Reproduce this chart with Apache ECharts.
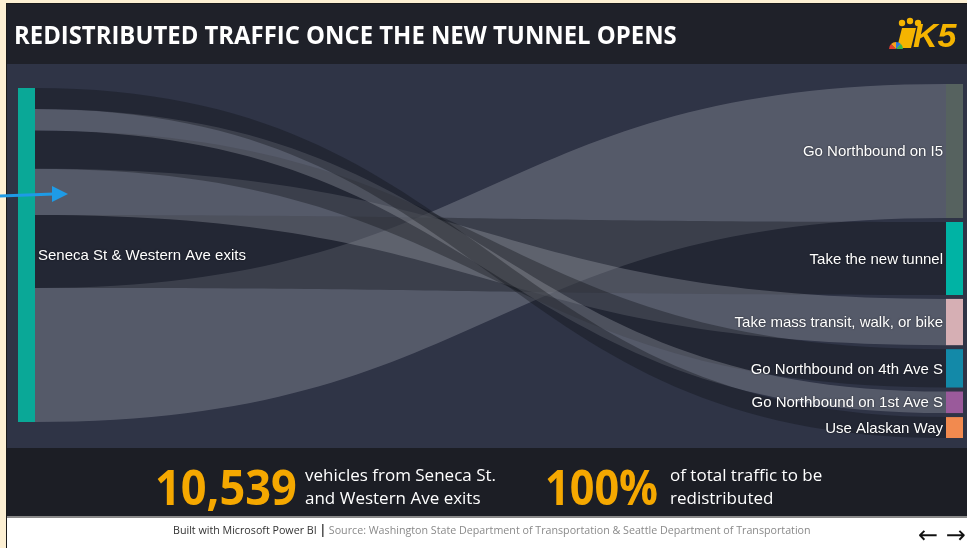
<!DOCTYPE html>
<html>
<head>
<meta charset="utf-8">
<script src="https://cdn.jsdelivr.net/npm/echarts@6/dist/echarts.min.js"></script>
<style>
html,body{margin:0;padding:0;background:#fdf0d3;}
#c{width:967px;height:548px;}
</style>
</head>
<body>
<div id="c"></div>
<script>
// ---- data ----
const sourceName = 'Seneca St & Western Ave exits';
const targets = ['Go Northbound on I5', 'Take the new tunnel', 'Take mass transit, walk, or bike',
  'Go Northbound on 4th Ave S', 'Go Northbound on 1st Ave S', 'Use Alaskan Way'];
const vehicles = [4229, 2300, 1460, 1210, 680, 660];
const totalVehicles = 10539;
const shareRedistributed = 100; // percent

// ---- styles ----
const targetColors = ['#56625f', '#00b3a4', '#d6afb4', '#1389a8', '#9a5a9b', '#f28a4f'];
const sourceColor = '#0aa897';
const linkColors = ['rgba(175,178,188,0.30)', 'rgba(14,16,22,0.36)'];
const NODE_W = 17, GAP_PX = 4, PLOT_TOP = 84, PLOT_H = 354;

const total = vehicles.reduce((a, b) => a + b, 0);
const contentPx = PLOT_H - (targets.length - 1) * GAP_PX;
const gapUnits = total * GAP_PX / contentPx;
const yMax = total + (targets.length - 1) * gapUnits;

// right (target) stacking in listed order, left (source) stacking in reversed order
const tTop = [];
let acc = 0;
vehicles.forEach((v, i) => { tTop[i] = acc; acc += v + gapUnits; });
const sTop = [];
acc = gapUnits;
for (let i = vehicles.length - 1; i >= 0; i--) { sTop[i] = acc; acc += vehicles[i]; }
const sourceTop = gapUnits, sourceBottom = gapUnits + total;

const linkData = vehicles.map((v, i) => [0, sTop[i], sTop[i] + v, tTop[i], tTop[i] + v]);

const chart = echarts.init(document.getElementById('c'), null, {renderer: 'canvas'});

function renderLink(params, api) {
  const i = params.dataIndex;
  const x0 = api.coord([0, 0])[0] + NODE_W;
  const x1 = api.coord([1, 0])[0] - NODE_W;
  const s0 = api.coord([0, api.value(1)])[1];
  const s1 = api.coord([0, api.value(2)])[1];
  const t0 = api.coord([1, api.value(3)])[1];
  const t1 = api.coord([1, api.value(4)])[1];
  const xm = (x0 + x1) / 2;
  const d = `M${x0},${s0} C${xm},${s0} ${xm},${t0} ${x1},${t0} L${x1},${t1} C${xm},${t1} ${xm},${s1} ${x0},${s1} Z`;
  return {type: 'path', shape: {pathData: d}, style: {fill: linkColors[i % 2]}};
}

const labelFont = '15px "Liberation Sans", Arial, sans-serif';
function renderNode(params, api) {
  const i = params.dataIndex;
  const xr = api.coord([1, 0])[0];
  const y0 = api.coord([1, api.value(3)])[1];
  const y1 = api.coord([1, api.value(4)])[1];
  const children = [
    {type: 'rect', shape: {x: xr - NODE_W, y: y0, width: NODE_W, height: y1 - y0}, style: {fill: targetColors[i]}},
    {type: 'text', style: {text: targets[i], x: xr - NODE_W - 3, y: (y0 + y1) / 2 + 1, fill: '#ffffff', font: labelFont,
      align: 'right', verticalAlign: 'middle', textAlign: 'right', textVerticalAlign: 'middle',
      textShadowColor: 'rgba(0,0,0,0.6)', textShadowBlur: 2}}
  ];
  if (i === 0) {
    const xl = api.coord([0, 0])[0];
    const a = api.coord([0, sourceTop])[1];
    const b = api.coord([0, sourceBottom])[1];
    children.push({type: 'rect', shape: {x: xl, y: a, width: NODE_W, height: b - a}, style: {fill: sourceColor}});
    children.push({type: 'text', style: {text: sourceName, x: xl + NODE_W + 3, y: (a + b) / 2 + 1, fill: '#ffffff', font: labelFont,
      align: 'left', verticalAlign: 'middle', textAlign: 'left', textVerticalAlign: 'middle',
      textShadowColor: 'rgba(0,0,0,0.6)', textShadowBlur: 2}});
  }
  return {type: 'group', children: children};
}

const uiFont = '"Open Sans", "Noto Sans", sans-serif';
const gold = '#f5b400';
const option = {
  animation: false,
  grid: {left: 18, right: 4, top: PLOT_TOP, height: PLOT_H},
  xAxis: {type: 'value', min: 0, max: 1, show: false},
  yAxis: {type: 'value', min: 0, max: yMax, inverse: true, show: false},
  graphic: [
    {type: 'rect', z: -10, shape: {x: 6, y: 3, width: 961, height: 545}, style: {fill: '#1a1a1a'}},
    {type: 'rect', z: -9, shape: {x: 7, y: 4, width: 960, height: 60}, style: {fill: '#1f2129'}},
    {type: 'rect', z: -9, shape: {x: 7, y: 64, width: 960, height: 384}, style: {fill: '#2f3446'}},
    {type: 'rect', z: -9, shape: {x: 7, y: 448, width: 960, height: 68}, style: {fill: '#1c1e25'}},
    {type: 'rect', z: -9, shape: {x: 7, y: 516, width: 960, height: 2}, style: {fill: '#8a8a8a'}},
    {type: 'rect', z: -9, shape: {x: 7, y: 518, width: 960, height: 30}, style: {fill: '#ffffff'}},
    {type: 'text', z: 5, scaleX: 0.955, originX: 14, style: {text: 'REDISTRIBUTED TRAFFIC ONCE THE NEW TUNNEL OPENS', x: 14, y: 37,
      fill: '#ffffff', font: 'bold 25px ' + uiFont, textVerticalAlign: 'middle', verticalAlign: 'middle'}},
    // logo
    {type: 'polygon', z: 5, shape: {points: [[902, 28], [916, 28], [911, 48], [897, 48]]}, style: {fill: gold}},
    {type: 'circle', z: 5, shape: {cx: 902, cy: 23, r: 3.2}, style: {fill: gold}},
    {type: 'circle', z: 5, shape: {cx: 910, cy: 21, r: 3.2}, style: {fill: gold}},
    {type: 'circle', z: 5, shape: {cx: 918, cy: 23, r: 3.2}, style: {fill: gold}},
    {type: 'text', z: 5, style: {text: 'K5', x: 913, y: 38, fill: gold, font: 'italic bold 34px "Liberation Sans", sans-serif',
      textVerticalAlign: 'middle', verticalAlign: 'middle'}},
    {type: 'sector', z: 6, shape: {cx: 896, cy: 49, r: 7, startAngle: Math.PI, endAngle: Math.PI * 1.25}, style: {fill: '#e43d30'}},
    {type: 'sector', z: 6, shape: {cx: 896, cy: 49, r: 7, startAngle: Math.PI * 1.25, endAngle: Math.PI * 1.5}, style: {fill: '#f7a21b'}},
    {type: 'sector', z: 6, shape: {cx: 896, cy: 49, r: 7, startAngle: Math.PI * 1.5, endAngle: Math.PI * 1.75}, style: {fill: '#2f7ddc'}},
    {type: 'sector', z: 6, shape: {cx: 896, cy: 49, r: 7, startAngle: Math.PI * 1.75, endAngle: Math.PI * 2}, style: {fill: '#3bb54a'}},
    // annotation arrow
    {type: 'polyline', z: 20, shape: {points: [[0, 196], [54, 194]]}, style: {stroke: '#1e9be6', lineWidth: 3}},
    {type: 'polygon', z: 20, shape: {points: [[52, 186], [68, 194], [52, 202]]}, style: {fill: '#1e9be6'}},
    // KPI band
    {type: 'text', z: 5, scaleX: 0.94, originX: 155, style: {text: totalVehicles.toLocaleString('en-US'), x: 155, y: 491, fill: '#f5a800',
      font: 'bold 48px ' + uiFont, textVerticalAlign: 'middle', verticalAlign: 'middle'}},
    {type: 'text', z: 5, style: {text: 'vehicles from Seneca St.\nand Western Ave exits', x: 305, y: 488, fill: '#ffffff',
      font: '17px ' + uiFont, lineHeight: 23, textVerticalAlign: 'middle', verticalAlign: 'middle'}},
    {type: 'text', z: 5, scaleX: 0.9, originX: 545, style: {text: shareRedistributed + '%', x: 545, y: 491, fill: '#f5a800',
      font: 'bold 48px ' + uiFont, textVerticalAlign: 'middle', verticalAlign: 'middle'}},
    {type: 'text', z: 5, style: {text: 'of total traffic to be\nredistributed', x: 670, y: 488, fill: '#ffffff',
      font: '17px ' + uiFont, lineHeight: 23, textVerticalAlign: 'middle', verticalAlign: 'middle'}},
    // footer
    {type: 'text', z: 5, style: {
      text: '{a|Built with Microsoft Power BI }{p||}{b| Source: Washington State Department of Transportation & Seattle Department of Transportation}',
      x: 173, y: 531, textVerticalAlign: 'middle', verticalAlign: 'middle',
      rich: {a: {fill: '#333333', font: '10.7px ' + uiFont}, p: {fill: '#333333', font: 'bold 12px ' + uiFont},
             b: {fill: '#8a8a8a', font: '10.7px ' + uiFont}}}},
    {type: 'text', z: 5, style: {text: '\u2190 \u2192', x: 918, y: 537, fill: '#111111', font: '24px "DejaVu Sans", sans-serif',
      textVerticalAlign: 'middle', verticalAlign: 'middle'}}
  ],
  series: [
    {type: 'custom', coordinateSystem: 'cartesian2d', z: 2, data: linkData, encode: {x: 0, y: [1, 2, 3, 4]},
      renderItem: renderLink, silent: true},
    {type: 'custom', coordinateSystem: 'cartesian2d', z: 3, data: linkData, encode: {x: 0, y: [1, 2, 3, 4]},
      renderItem: renderNode, silent: true}
  ]
};
chart.setOption(option);
</script>
</body>
</html>
